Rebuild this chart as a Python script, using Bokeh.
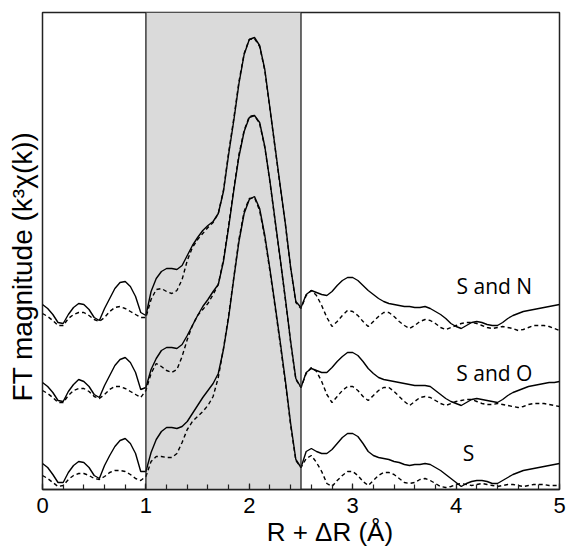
from bokeh.plotting import figure
from bokeh.models import BoxAnnotation, Span, Label, Range1d, SingleIntervalTicker, FixedTicker
from bokeh.embed import file_html
from bokeh.resources import INLINE

# R + dR grid (Angstrom)
r = [0.00, 0.05, 0.10, 0.15, 0.20, 0.25, 0.30, 0.35, 0.40, 0.45,
     0.50, 0.55, 0.60, 0.65, 0.70, 0.75, 0.80, 0.85, 0.90, 0.95,
     1.00, 1.05, 1.10, 1.15, 1.20, 1.25, 1.30, 1.35, 1.40, 1.45,
     1.50, 1.55, 1.60, 1.65, 1.70, 1.75, 1.80, 1.85, 1.90, 1.95,
     2.00, 2.05, 2.10, 2.15, 2.20, 2.25, 2.30, 2.35, 2.40, 2.45,
     2.50, 2.55, 2.60, 2.65, 2.70, 2.75, 2.80, 2.85, 2.90, 2.95,
     3.00, 3.05, 3.10, 3.15, 3.20, 3.25, 3.30, 3.35, 3.40, 3.45,
     3.50, 3.55, 3.60, 3.65, 3.70, 3.75, 3.80, 3.85, 3.90, 3.95,
     4.00, 4.05, 4.10, 4.15, 4.20, 4.25, 4.30, 4.35, 4.40, 4.45,
     4.50, 4.55, 4.60, 4.65, 4.70, 4.75, 4.80, 4.85, 4.90, 4.95,
     5.00]

# FT magnitudes (offset, arbitrary units): solid = data, dashed = fit
s_data = [26, 22, 15, 7, 7, 17, 24, 28, 27, 22, 14, 11, 24, 34, 43, 49, 51, 46, 36, 18, 18,
          37, 50, 58, 62, 62, 61, 63, 68, 76, 84, 92, 99, 106, 116, 140, 172, 211, 248, 276,
          290, 293, 281, 254, 220, 184, 147, 108, 66, 30, 22,
          38, 41, 38, 36, 36, 40, 46, 52, 56, 56, 53, 46, 38, 34, 32, 31, 30, 28, 27, 25,
          24, 25, 25, 26, 25, 22, 19, 15, 11, 7, 3, 6, 8, 9, 9, 8, 6, 6, 9, 12,
          15, 17, 19, 20, 21, 22, 23, 24, 25, 26]
s_fit = [14, 11, 7, 3, 4, 10, 14, 16, 16, 14, 11, 10, 13, 17, 19, 19, 18, 15, 11, 9, 13,
         28, 33, 33, 32, 32, 36, 47, 60, 68, 73, 78, 84, 93, 112, 141, 174, 212, 250, 278,
         291, 292, 279, 252, 218, 182, 145, 106, 64, 29, 22,
         31, 34, 27, 18, 6, 3, 9, 14, 18, 18, 14, 8, 4, 9, 14, 17, 17, 15, 11, 7,
         6, 7, 10, 11, 9, 6, 3, 2, 3, 5, 6, 5, 4, 5, 6, 5, 4, 3, 4, 5,
         5, 4, 3, 4, 5, 5, 5, 4, 4, 4]
so_data = [107, 103, 97, 89, 88, 98, 105, 110, 108, 103, 95, 92, 104, 114, 124, 130, 132, 127, 117, 100, 102,
           120, 131, 139, 142, 142, 141, 145, 154, 164, 174, 183, 190, 198, 205, 228, 262, 299, 333, 358,
           372, 374, 367, 343, 308, 269, 230, 190, 148, 111, 102,
           117, 121, 119, 117, 117, 122, 128, 133, 137, 137, 134, 128, 121, 116, 112, 110, 109, 108, 107, 106,
           105, 104, 104, 104, 103, 99, 95, 91, 88, 86, 84, 87, 90, 91, 90, 89, 88, 87, 90, 94,
           97, 99, 101, 103, 104, 105, 106, 107, 107, 108]
so_fit = [99, 96, 92, 87, 87, 94, 99, 101, 101, 98, 93, 91, 95, 100, 103, 103, 101, 98, 95, 92, 99,
          116, 126, 123, 119, 117, 120, 133, 150, 164, 174, 180, 186, 195, 205, 230, 264, 301, 335, 359,
          373, 374, 366, 342, 307, 268, 229, 189, 147, 110, 102,
          116, 122, 118, 108, 95, 87, 93, 99, 103, 103, 99, 93, 89, 94, 99, 102, 102, 98, 93, 88,
          84, 88, 92, 93, 92, 89, 86, 84, 86, 88, 89, 90, 90, 88, 86, 85, 85, 86, 85, 84,
          83, 82, 83, 85, 86, 86, 86, 85, 84, 83]
sn_data = [185, 181, 175, 167, 166, 175, 182, 186, 185, 180, 172, 169, 181, 191, 201, 207, 208, 203, 193, 177, 174,
           198, 211, 218, 221, 221, 220, 224, 234, 244, 252, 259, 264, 268, 276, 298, 335, 369, 406, 435,
           450, 452, 444, 420, 381, 342, 303, 265, 222, 188, 182,
           195, 199, 197, 195, 194, 198, 204, 209, 212, 212, 209, 204, 199, 195, 191, 188, 186, 185, 184, 183,
           183, 182, 182, 183, 181, 178, 175, 171, 166, 163, 161, 164, 167, 168, 167, 165, 164, 164, 167, 171,
           174, 176, 178, 179, 180, 181, 182, 183, 184, 185]
sn_fit = [176, 173, 169, 164, 164, 171, 175, 177, 177, 174, 170, 168, 172, 178, 182, 183, 181, 178, 175, 172, 172,
          190, 200, 201, 198, 196, 199, 210, 229, 242, 250, 256, 262, 267, 276, 299, 337, 371, 408, 436,
          450, 451, 443, 419, 380, 341, 302, 264, 221, 187, 181,
          194, 199, 194, 184, 172, 163, 168, 174, 179, 178, 174, 168, 163, 168, 173, 177, 177, 173, 168, 164,
          161, 164, 168, 170, 169, 166, 162, 160, 162, 164, 166, 167, 167, 166, 164, 162, 161, 162, 163, 162,
          161, 159, 160, 162, 164, 164, 164, 163, 161, 159]

series_names = ["S and N", "S and O", "S"]
fit_window = (1.0, 2.5)

NB = "\u00a0"

p = figure(width=568, height=549, output_backend="svg", toolbar_location=None,
           x_range=Range1d(0, 5), y_range=Range1d(0, 477),
           min_border_left=42, min_border_right=9, min_border_top=12, min_border_bottom=60)
p.background_fill_color = "white"
p.border_fill_color = "white"
p.grid.visible = False
p.outline_line_color = "#222222"
p.outline_line_width = 1.5

ax = p.xaxis[0]
ax.ticker = SingleIntervalTicker(interval=1, num_minor_ticks=5)
ax.major_tick_in = 6
ax.major_tick_out = 0
ax.minor_tick_in = 5
ax.minor_tick_out = 0
ax.axis_line_width = 1.5
ax.axis_line_color = "#222222"
ax.major_tick_line_color = "#222222"
ax.minor_tick_line_color = "#222222"
ax.major_tick_line_width = 1.2
ax.minor_tick_line_width = 1.2
ax.major_label_text_font = "Liberation Sans"
ax.major_label_text_font_size = "22px"
ax.major_label_text_color = "black"
ax.major_label_standoff = 8
ax.axis_label = NB * 8 + "R + \u0394R (\u00c5)"
ax.axis_label_text_font = "Liberation Sans"
ax.axis_label_text_font_style = "normal"
ax.axis_label_text_font_size = "26px"
ax.axis_label_text_color = "black"
ax.axis_label_standoff = 1

ay = p.yaxis[0]
ay.ticker = FixedTicker(ticks=[])
ay.major_tick_in = 0
ay.major_tick_out = 0
ay.minor_tick_in = 0
ay.minor_tick_out = 0
ay.major_tick_line_color = None
ay.minor_tick_line_color = None
ay.major_label_standoff = 0
ay.axis_line_color = None
ay.axis_label = "FT magnitude (k\u00b3\u03c7(k))" + NB * 4
ay.axis_label_text_font = "Liberation Sans"
ay.axis_label_text_font_style = "normal"
ay.axis_label_text_font_size = "28px"
ay.axis_label_text_color = "black"
ay.axis_label_standoff = 5

p.add_layout(BoxAnnotation(left=fit_window[0], right=fit_window[1], fill_color="#dadada",
                           fill_alpha=1.0, line_color=None, level="underlay"))
for loc in fit_window:
    p.add_layout(Span(location=loc, dimension="height", line_color="#222222", line_width=1.3))

for data, fit in [(sn_data, sn_fit), (so_data, so_fit), (s_data, s_fit)]:
    p.line(r, data, line_color="black", line_width=1.4)
    p.line(r, fit, line_color="black", line_width=1.4, line_dash="4 3")

for name, xx, yy in [(series_names[0], 4.37, 204), (series_names[1], 4.37, 117), (series_names[2], 4.12, 37)]:
    p.add_layout(Label(x=xx, y=yy, text=name, text_font="Open Sans", text_font_size="21px",
                       text_align="center", text_baseline="alphabetic", text_color="black"))

open("out.html", "w").write(file_html(p, INLINE))
